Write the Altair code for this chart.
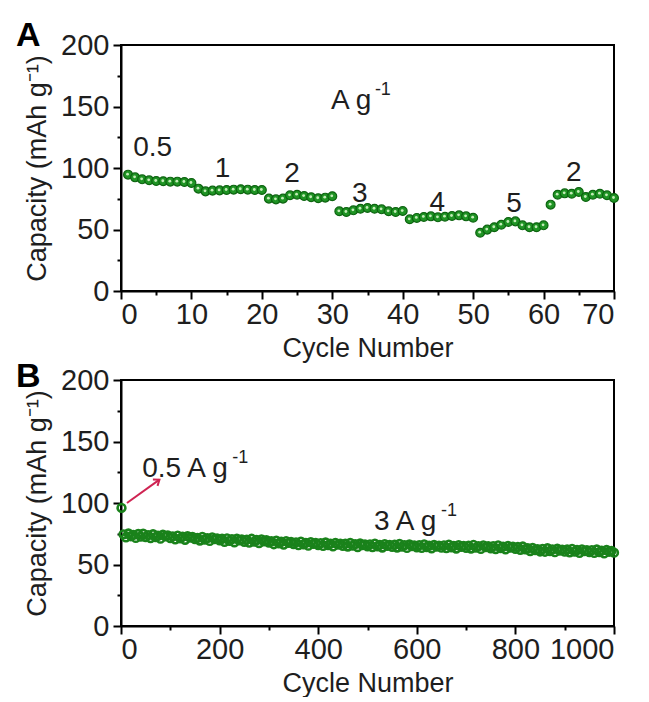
import altair as alt
import pandas as pd

FONT = "Liberation Sans"
INK = "#1e1e1e"
GREEN_DARK = "#0d6410"
GREEN = "#1f9424"
GREEN_HI = "#c4ecb8"
BAND = "#1a821b"
ARROW_RED = "#cf2352"

# ---------------- Panel A: rate capability ----------------
a_cycle = list(range(1, 71))
a_capacity = [
    94.6, 92.4, 90.8, 90.0, 89.4, 89.2, 88.9, 88.9, 88.6, 87.8,
    83.2, 81.0, 81.6, 81.8, 82.1, 82.4, 82.7, 82.4, 82.1, 82.1,
    75.1, 74.5, 75.1, 77.8, 78.3, 77.2, 76.2, 75.4, 75.9, 77.0,
    64.8, 64.2, 65.6, 66.9, 67.5, 66.9, 66.4, 64.8, 64.2, 65.0,
    58.3, 59.4, 60.2, 60.7, 59.9, 60.4, 61.0, 61.5, 60.7, 59.6,
    47.4, 49.9, 51.8, 53.9, 56.1, 56.6, 53.4, 51.8, 51.8, 53.4,
    70.2, 78.3, 79.4, 79.1, 80.5, 76.4, 78.3, 79.1, 77.8, 75.6,
]
a_rate_label = ["0.5", "1", "2", "3", "4", "5", "2"]
a_rate_cycle = [4.5, 14.4, 24.3, 33.9, 44.9, 55.8, 64.3]
a_rate_capacity = [110, 92.7, 88.6, 72.4, 65.0, 64.2, 89.4]
a_unit_label = ["A g"]
a_unit_sup = ["-1"]
a_unit_cycle = [29.8]
a_unit_capacity = [148]

# ---------------- Panel B: long cycling ----------------
b_cycle = [1] + list(range(5, 1001, 5))
b_capacity = [96.0] + [
    74.5, 72.0, 75.2, 73.0, 74.1, 71.6, 74.8, 72.7, 75.0, 72.3,
    73.9, 71.5, 74.6, 72.2, 73.4, 71.0, 74.2, 72.9, 73.6, 71.4,
    72.9, 70.4, 73.5, 71.2, 72.6, 70.1, 73.0, 71.8, 72.4, 70.6,
    71.7, 69.5, 72.4, 70.3, 71.4, 69.2, 72.1, 70.6, 71.3, 69.7,
    70.9, 68.4, 71.3, 69.2, 70.6, 68.1, 71.0, 69.6, 70.3, 68.5,
    70.2, 67.8, 70.9, 68.6, 69.9, 67.5, 70.4, 68.9, 69.7, 67.9,
    68.9, 66.5, 69.4, 67.3, 68.5, 66.2, 69.0, 67.6, 68.4, 66.6,
    68.0, 65.7, 68.6, 66.4, 67.6, 65.3, 68.2, 66.8, 67.5, 65.8,
    67.4, 65.1, 67.9, 65.8, 67.0, 64.7, 67.6, 66.2, 66.9, 65.2,
    66.9, 64.6, 67.5, 65.3, 66.5, 64.2, 67.1, 65.7, 66.4, 64.8,
    66.4, 64.1, 67.0, 64.8, 66.0, 63.8, 66.6, 65.2, 65.9, 64.3,
    66.1, 63.8, 66.7, 64.5, 65.7, 63.5, 66.3, 64.9, 65.6, 64.0,
    65.8, 63.5, 66.4, 64.2, 65.4, 63.2, 66.0, 64.6, 65.3, 63.7,
    65.6, 63.3, 66.2, 64.0, 65.2, 63.0, 65.8, 64.4, 65.1, 63.5,
    65.3, 63.0, 65.9, 63.7, 64.9, 62.7, 65.5, 64.1, 64.8, 63.2,
    64.9, 62.6, 65.5, 63.3, 64.5, 62.3, 65.1, 63.7, 64.4, 62.8,
    64.3, 62.0, 64.6, 62.4, 63.2, 61.0, 63.5, 61.8, 62.4, 60.6,
    62.7, 60.4, 63.2, 61.0, 62.3, 60.0, 62.8, 61.4, 62.1, 60.5,
    62.2, 59.9, 62.7, 60.5, 61.8, 59.5, 62.3, 60.9, 61.6, 60.0,
    61.7, 59.4, 62.2, 60.0, 61.3, 59.0, 61.8, 60.4, 61.1, 59.6,
]
b_note1_label = ["0.5 A g"]
b_note1_cycle = [43]
b_note1_capacity = [121]
b_note2_label = ["3 A g"]
b_note2_cycle = [513]
b_note2_capacity = [78]
b_arrow_cycle = [12]
b_arrow_capacity = [100]
b_arrow_cycle2 = [78]
b_arrow_capacity2 = [119]

Y_TITLE = "Capacity (mAh g\u207b\u00b9)"
PW, PH = 493, 246


def axis_common():
    return dict(
        grid=False, domainColor="black", domainWidth=2, tickColor="black", tickWidth=2,
        labelFont=FONT, labelFontSize=29, labelColor=INK, labelOverlap=False, format="d",
        titleFont=FONT, titleFontSize=27, titleFontWeight="normal", titleColor=INK,
    )


def x_axis(values, major):
    return alt.Axis(
        values=values,
        labelExpr=f"datum.value % {major} == 0 ? datum.label : ''",
        tickSize={"condition": {"test": f"datum.value % {major} != 0", "value": 4}, "value": 8},
        title="Cycle Number", labelPadding=1, titlePadding=6, **axis_common(),
    )


def y_axis():
    return alt.Axis(
        values=list(range(0, 201, 25)),
        labelExpr="datum.value % 50 == 0 ? datum.label : ''",
        tickSize={"condition": {"test": "datum.value % 50 != 0", "value": 4}, "value": 8},
        title=Y_TITLE, labelPadding=4, titlePadding=9, **axis_common(),
    )


def panel_letter(letter, drop):
    return alt.Chart(pd.DataFrame({"letter": [letter]})).mark_text(
        font=FONT, fontSize=34, fontWeight="bold", color="black", align="left", baseline="alphabetic",
    ).encode(x=alt.value(-105), y=alt.value(drop), text="letter:N")


X_A = alt.X("cycle:Q", scale=alt.Scale(domain=[0, 70], nice=False), axis=x_axis(list(range(0, 71, 5)), 10))
Y_A = alt.Y("capacity:Q", scale=alt.Scale(domain=[0, 200], nice=False), axis=y_axis())
X_B = alt.X("cycle:Q", scale=alt.Scale(domain=[0, 1000], nice=False), axis=x_axis(list(range(0, 1001, 100)), 200))
Y_B = alt.Y("capacity:Q", scale=alt.Scale(domain=[0, 200], nice=False), axis=y_axis())

# ---- Panel A layers ----
dfA = pd.DataFrame({"cycle": a_cycle, "capacity": a_capacity})
dfA_rate = pd.DataFrame({"cycle": a_rate_cycle, "capacity": a_rate_capacity, "label": a_rate_label})
dfA_unit = pd.DataFrame({"cycle": a_unit_cycle, "capacity": a_unit_capacity, "label": a_unit_label, "sup": a_unit_sup})

a_balls = alt.Chart(dfA).mark_circle(size=78, color=GREEN, stroke=GREEN_DARK, strokeWidth=1.2, opacity=1).encode(X_A, Y_A)
a_shine = alt.Chart(dfA).mark_circle(size=8, color=GREEN_HI, opacity=1, xOffset=-0.5, yOffset=-0.5).encode(X_A, Y_A)
a_rates = alt.Chart(dfA_rate).mark_text(font=FONT, fontSize=28, color=INK, align="center", baseline="alphabetic").encode(X_A, Y_A, text="label:N")
a_unit = alt.Chart(dfA_unit).mark_text(font=FONT, fontSize=28, color=INK, align="left", baseline="alphabetic").encode(X_A, Y_A, text="label:N")
a_unit_s = alt.Chart(dfA_unit).mark_text(font=FONT, fontSize=18, color=INK, align="left", baseline="alphabetic", dx=44, dy=-14).encode(X_A, Y_A, text="sup:N")

panel_a = alt.layer(a_balls, a_shine, a_rates, a_unit, a_unit_s, panel_letter("A", 1)).properties(width=PW, height=PH)

# ---- Panel B layers ----
dfB = pd.DataFrame({"cycle": b_cycle, "capacity": b_capacity})
dfB_n1 = pd.DataFrame({"cycle": b_note1_cycle, "capacity": b_note1_capacity, "label": b_note1_label, "sup": ["-1"]})
dfB_n2 = pd.DataFrame({"cycle": b_note2_cycle, "capacity": b_note2_capacity, "label": b_note2_label, "sup": ["-1"]})
dfB_arrow = pd.DataFrame({"cycle": b_arrow_cycle, "capacity": b_arrow_capacity, "cycle2": b_arrow_cycle2, "capacity2": b_arrow_capacity2})
dfB_head = pd.DataFrame({"cycle": b_arrow_cycle2, "capacity": b_arrow_capacity2})

b_points = alt.Chart(dfB).mark_point(size=60, filled=False, color=BAND, strokeWidth=2.6, opacity=1).encode(X_B, Y_B)
b_rule = alt.Chart(dfB_arrow).mark_rule(color=ARROW_RED, strokeWidth=2).encode(X_B, Y_B, x2="cycle2:Q", y2="capacity2:Q")
b_head = alt.Chart(dfB_head).mark_point(shape="M -0.75 1 L 0 0 L 0.75 1", filled=False, color=ARROW_RED, strokeWidth=2, size=110, angle=54, opacity=1).encode(X_B, Y_B)
b_n1 = alt.Chart(dfB_n1).mark_text(font=FONT, fontSize=28, color=INK, align="left", baseline="alphabetic").encode(X_B, Y_B, text="label:N")
b_n1s = alt.Chart(dfB_n1).mark_text(font=FONT, fontSize=18, color=INK, align="left", baseline="alphabetic", dx=90, dy=-14).encode(X_B, Y_B, text="sup:N")
b_n2 = alt.Chart(dfB_n2).mark_text(font=FONT, fontSize=28, color=INK, align="left", baseline="alphabetic").encode(X_B, Y_B, text="label:N")
b_n2s = alt.Chart(dfB_n2).mark_text(font=FONT, fontSize=18, color=INK, align="left", baseline="alphabetic", dx=67, dy=-14).encode(X_B, Y_B, text="sup:N")

panel_b = alt.layer(b_points, b_rule, b_head, b_n1, b_n1s, b_n2, b_n2s, panel_letter("B", 7)).properties(width=PW, height=PH)

chart = (
    alt.vconcat(panel_a, panel_b, spacing=89, bounds="flush")
    .properties(padding={"left": 15, "top": 18, "right": 0, "bottom": 0}, background="white")
    .configure_view(stroke="black", strokeWidth=2)
)

chart.save("out.html", embed_options={"renderer": "svg", "actions": False})
